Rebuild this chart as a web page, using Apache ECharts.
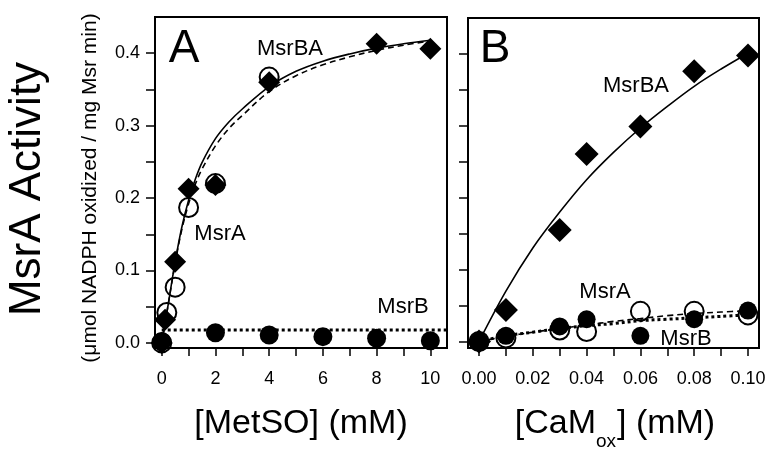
<!DOCTYPE html>
<html>
<head>
<meta charset="utf-8">
<script src="https://cdn.jsdelivr.net/npm/echarts@6/dist/echarts.min.js"></script>
<style>html,body{margin:0;padding:0;background:#fff}#c{width:769px;height:449px}</style>
</head>
<body>
<div id="c"></div>
<script>
// ---------- Panel A: [MetSO] (mM) ----------
const aMsrBAx = [0, 0.125, 0.5, 1, 2, 4, 8, 10];
const aMsrBAy = [0.0, 0.032, 0.112, 0.213, 0.218, 0.360, 0.413, 0.406];
const aMsrAx = [0, 0.19, 0.5, 1, 2, 4];
const aMsrAy = [0.0, 0.042, 0.077, 0.187, 0.220, 0.367];
const aMsrBx = [0, 2, 4, 6, 8, 10];
const aMsrBy = [0.002, 0.014, 0.011, 0.0087, 0.0065, 0.003];
const aFitX = [0, 0.25, 0.5, 0.75, 1, 1.25, 1.5, 2, 2.5, 3, 4, 5, 6, 7, 8, 9, 10];
const aFitBA = [0, 0.055, 0.112, 0.16, 0.197, 0.226, 0.249, 0.282, 0.305, 0.323, 0.354, 0.375, 0.389, 0.399, 0.407, 0.413, 0.418];
const aFitA = [0, 0.055, 0.11, 0.157, 0.192, 0.219, 0.240, 0.272, 0.296, 0.314, 0.347, 0.369, 0.384, 0.395, 0.404, 0.411, 0.417];
const aFitBx = [0, 10.6];
const aFitBy = [0.018, 0.018];
const aXLabels = [0, 2, 4, 6, 8, 10];
const aXTicks = [0, 1, 2, 3, 4, 5, 6, 7, 8, 9, 10];

// ---------- Panel B: [CaMox] (mM) ----------
const bMsrBAx = [0, 0.01, 0.03, 0.04, 0.06, 0.08, 0.10];
const bMsrBAy = [0.0, 0.044, 0.155, 0.261, 0.299, 0.376, 0.398];
const bMsrAx = [0, 0.01, 0.03, 0.04, 0.06, 0.08, 0.10];
const bMsrAy = [0.0, 0.005, 0.016, 0.014, 0.042, 0.042, 0.037];
const bMsrBx = [0, 0.01, 0.03, 0.04, 0.06, 0.08, 0.10];
const bMsrBy = [0.0, 0.008, 0.021, 0.031, 0.008, 0.031, 0.043];
const bFitX = [0, 0.01, 0.02, 0.03, 0.04, 0.05, 0.06, 0.07, 0.08, 0.09, 0.10];
const bFitBA = [0, 0.07, 0.13, 0.18, 0.225, 0.263, 0.297, 0.327, 0.355, 0.379, 0.401];
const bFitA = [0, 0.007, 0.013, 0.018, 0.023, 0.028, 0.032, 0.036, 0.039, 0.041, 0.043];
const bFitB = [0, 0.008, 0.013, 0.018, 0.022, 0.025, 0.029, 0.031, 0.033, 0.035, 0.037];
const bXLabels = [0, 0.02, 0.04, 0.06, 0.08, 0.10];
const bXTicks = [0, 0.01, 0.02, 0.03, 0.04, 0.05, 0.06, 0.07, 0.08, 0.09, 0.10];

const yLabels = [0, 0.1, 0.2, 0.3, 0.4];
const yTicks = [0, 0.05, 0.1, 0.15, 0.2, 0.25, 0.3, 0.35, 0.4];

const zip = (xs, ys) => xs.map((x, i) => [x, ys[i]]);
const FONT = "'Liberation Sans', Arial, Helvetica, sans-serif";
const BLACK = '#000';

function xAxis(gi, min, max, labels, ticks, digits) {
  return {
    type: 'value', gridIndex: gi, min: min, max: max,
    axisLine: { show: true, onZero: false, lineStyle: { color: BLACK, width: 2 } },
    axisTick: { show: true, customValues: ticks, length: 8, lineStyle: { color: BLACK, width: 1.5 } },
    axisLabel: { show: true, customValues: labels, margin: 22, fontSize: 18, fontFamily: FONT, color: BLACK,
                 formatter: v => Number(v).toFixed(digits) },
    splitLine: { show: false }
  };
}
function yAxis(gi, min, max, showLabels) {
  return {
    type: 'value', gridIndex: gi, min: min, max: max,
    axisLine: { show: true, onZero: false, lineStyle: { color: BLACK, width: 2 } },
    axisTick: { show: true, customValues: yTicks, length: 9, lineStyle: { color: BLACK, width: 1.5 } },
    axisLabel: { show: showLabels, customValues: yLabels, margin: 15, fontSize: 18, fontFamily: FONT, color: BLACK,
                 formatter: v => Number(v).toFixed(1) },
    splitLine: { show: false }
  };
}
function fitLine(gi, data, type, width, smooth) {
  return {
    type: 'line', xAxisIndex: gi, yAxisIndex: gi, data: data, symbol: 'none', showSymbol: false,
    smooth: smooth, silent: true, z: 1,
    lineStyle: { color: BLACK, width: width, type: type, cap: 'butt', opacity: 1 }
  };
}
function markers(gi, data, kind, size) {
  const s = { type: 'scatter', xAxisIndex: gi, yAxisIndex: gi, data: data, silent: true };
  if (kind === 'diamond') {
    s.symbol = 'diamond'; s.symbolSize = size; s.itemStyle = { color: BLACK, opacity: 1 }; s.z = 4;
  } else if (kind === 'open') {
    s.symbol = 'circle'; s.symbolSize = size; s.itemStyle = { color: 'rgba(0,0,0,0)', borderColor: BLACK, borderWidth: 2, opacity: 1 }; s.z = 3;
  } else {
    s.symbol = 'circle'; s.symbolSize = size; s.itemStyle = { color: BLACK, opacity: 1 }; s.z = 5;
  }
  return s;
}
function txt(x, y, text, size, extra) {
  return Object.assign({
    type: 'text', x: x, y: y, silent: true,
    style: { text: text, fontSize: size, fontFamily: FONT, fill: BLACK,
             textAlign: 'center', textVerticalAlign: 'middle', align: 'center', verticalAlign: 'middle' }
  }, extra || {});
}

const chart = echarts.init(document.getElementById('c'), null, { renderer: 'canvas' });
chart.setOption({
  animation: false,
  backgroundColor: '#fff',
  grid: [
    { left: 155, top: 17, width: 292, height: 331, show: true, borderColor: BLACK, borderWidth: 2, backgroundColor: 'transparent' },
    { left: 468, top: 18, width: 291, height: 330, show: true, borderColor: BLACK, borderWidth: 2, backgroundColor: 'transparent' }
  ],
  xAxis: [
    xAxis(0, -0.25, 10.62, aXLabels, aXTicks, 0),
    xAxis(1, -0.0041, 0.1041, bXLabels, bXTicks, 2)
  ],
  yAxis: [
    yAxis(0, -0.007, 0.45, true),
    yAxis(1, -0.009, 0.45, false)
  ],
  series: [
    fitLine(0, zip(aFitX, aFitBA), 'solid', 1.6, 0.35),
    fitLine(0, zip(aFitX, aFitA), [6, 4], 1.6, 0.35),
    fitLine(0, zip(aFitBx, aFitBy), [3, 3], 3, false),
    markers(0, zip(aMsrAx, aMsrAy), 'open', 19),
    markers(0, zip(aMsrBAx, aMsrBAy), 'diamond', 22),
    markers(0, zip(aMsrBx, aMsrBy), 'filled', 19),

    fitLine(1, zip(bFitX, bFitBA), 'solid', 1.6, 0.35),
    fitLine(1, zip(bFitX, bFitA), [6, 4], 1.6, 0.35),
    fitLine(1, zip(bFitX, bFitB), [3, 3], 3, 0.35),
    markers(1, zip(bMsrAx, bMsrAy), 'open', 19),
    markers(1, zip(bMsrBAx, bMsrBAy), 'diamond', 24),
    markers(1, zip(bMsrBx, bMsrBy), 'filled', 18)
  ],
  graphic: [
    txt(184, 49, 'A', 46),
    txt(495, 49, 'B', 46),
    txt(290, 49, 'MsrBA', 22),
    txt(220, 234, 'MsrA', 22),
    txt(403, 307, 'MsrB', 22),
    txt(636, 86, 'MsrBA', 22),
    txt(605, 292, 'MsrA', 22),
    txt(686, 339, 'MsrB', 22),
    txt(28, 189, 'MsrA Activity', 44, { rotation: Math.PI / 2 }),
    txt(90, 188, '(\u03bcmol NADPH oxidized / mg Msr min)', 21, { rotation: Math.PI / 2 }),
    txt(301, 424, '[MetSO] (mM)', 34),
    {
      type: 'text', x: 596, y: 424, silent: true,
      style: { text: '[CaM', fontSize: 34, fontFamily: FONT, fill: BLACK, textAlign: 'right', align: 'right', textVerticalAlign: 'middle', verticalAlign: 'middle' }
    },
    {
      type: 'text', x: 596, y: 442, silent: true,
      style: { text: 'ox', fontSize: 19, fontFamily: FONT, fill: BLACK, textAlign: 'left', align: 'left', textVerticalAlign: 'middle', verticalAlign: 'middle' }
    },
    {
      type: 'text', x: 617, y: 424, silent: true,
      style: { text: '] (mM)', fontSize: 34, fontFamily: FONT, fill: BLACK, textAlign: 'left', align: 'left', textVerticalAlign: 'middle', verticalAlign: 'middle' }
    }
  ]
});
</script>
</body>
</html>
